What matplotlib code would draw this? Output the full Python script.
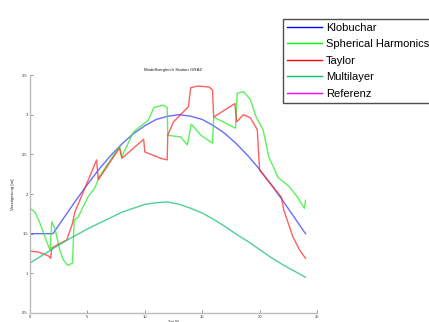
import matplotlib
matplotlib.use("Agg")
import matplotlib.pyplot as plt
from matplotlib.lines import Line2D

# ---- data ----
kl_x = [0, 1, 2, 3, 4, 5, 6, 7, 8, 9, 10, 11, 12, 13, 14, 15, 16, 17, 18, 19, 20, 21, 22, 23, 24]
kl_y = [1.5, 1.5, 1.5, 1.71, 1.92, 2.12, 2.31, 2.48, 2.63, 2.76, 2.86, 2.94, 2.98, 3.0,
        2.98, 2.94, 2.86, 2.76, 2.63, 2.48, 2.31, 2.12, 1.92, 1.71, 1.5]

sh_x = [0, 0.44, 0.87, 1.3, 1.75, 1.9, 2.2, 2.6, 2.9, 3.3, 3.7, 3.85, 4.2, 5.0, 5.7, 6.0,
        7.8, 8.0, 9.0, 10.3, 10.8, 11.6, 11.95, 12.0, 13.1, 13.7, 14.05, 14.9, 15.9, 16.0,
        17.9, 18.05, 18.6, 19.2, 19.7, 20.3, 20.8, 21.6, 22.6, 23.3, 23.9, 24.0]
sh_y = [1.82, 1.77, 1.63, 1.46, 1.29, 1.65, 1.55, 1.29, 1.17, 1.10, 1.13, 1.67, 1.71, 1.95,
        2.09, 2.21, 2.60, 2.47, 2.78, 2.93, 3.09, 3.12, 3.09, 2.74, 2.72, 2.62, 2.88, 2.74,
        2.64, 2.97, 2.83, 3.27, 3.29, 3.19, 2.97, 2.81, 2.47, 2.21, 2.09, 1.96, 1.82, 1.92]

ty_x = [0, 0.7, 1.6, 1.8, 1.9, 2.4, 3.2, 3.7, 3.9, 4.8, 5.8, 5.95, 7.8, 8.0, 9.9, 10.0,
        11.4, 11.95, 12.0, 12.5, 13.8, 14.0, 14.6, 15.6, 15.9, 16.0, 17.85, 18.0, 18.6,
        19.2, 19.8, 20.0, 21.0, 21.9, 22.1, 22.9, 23.5, 24.0]
ty_y = [1.28, 1.27, 1.22, 1.19, 1.32, 1.36, 1.42, 1.63, 1.77, 2.08, 2.43, 2.18, 2.58, 2.45,
        2.69, 2.53, 2.45, 2.43, 2.74, 2.91, 3.10, 3.34, 3.36, 3.35, 3.31, 2.97, 3.14, 2.91,
        3.0, 2.96, 2.81, 2.30, 2.12, 1.96, 1.80, 1.46, 1.29, 1.19]

ml_x = [0, 1, 2, 3, 4, 5, 6, 7, 8, 9, 10, 11, 12, 13, 14, 15, 16, 17, 18, 19, 20, 21, 22, 23, 24]
ml_y = [1.13, 1.22, 1.31, 1.40, 1.48, 1.56, 1.63, 1.70, 1.77, 1.82, 1.87, 1.89, 1.90, 1.87,
        1.82, 1.76, 1.68, 1.59, 1.49, 1.40, 1.30, 1.20, 1.11, 1.03, 0.95]

labels = ["Klobuchar", "Spherical Harmonics", "Taylor", "Multilayer", "Referenz"]
x_ticks = [0, 5, 10, 15, 20, 25]
y_ticks = [0.5, 1, 1.5, 2, 2.5, 3, 3.5]
y_ticklabels = ["0.5", "1", "1.5", "2", "2.5", "3", "3.5"]

plt.rcParams['font.family'] = ['Liberation Sans', 'DejaVu Sans']

fig = plt.figure(figsize=(4.29, 3.22), dpi=100)
ax = fig.add_axes([30 / 429, 9 / 322, 287 / 429, 238 / 322])

ax.plot(kl_x, kl_y, color='#3a3aff', lw=1.0, alpha=0.75)
ax.plot(sh_x, sh_y, color='#33ee33', lw=1.0, alpha=0.8)
ax.plot(ty_x, ty_y, color='#ff2a2a', lw=1.0, alpha=0.75)
ax.plot(ml_x, ml_y, color='#22c47a', lw=1.0, alpha=0.8)
ax.plot([], [], color='#ff00ff', lw=1.0)

ax.set_xlim(0, 25)
ax.set_ylim(0.5, 3.5)
ax.set_xticks(x_ticks)
ax.set_xticklabels([str(t) for t in x_ticks])
ax.set_yticks(y_ticks)
ax.set_yticklabels(y_ticklabels)
ax.tick_params(direction='in', length=2, width=0.6, colors='#888888', labelsize=3,
               labelcolor='#333333', pad=1.5)
for s in ['top', 'right']:
    ax.spines[s].set_visible(False)
for s in ['left', 'bottom']:
    ax.spines[s].set_color('#bbbbbb')
    ax.spines[s].set_linewidth(1.0)

ax.set_title("Modellvergleich Station GRAZ", fontsize=3.2, pad=3, color='#222222')
ax.set_ylabel("Verzögerung [m]", fontsize=3.2, labelpad=5, color='#222222')
ax.set_xlabel("Zeit [h]", fontsize=2.6, labelpad=0.3, color='#222222')

handles = [
    Line2D([], [], color='#0000ff', lw=1.0),
    Line2D([], [], color='#00ff00', lw=1.0),
    Line2D([], [], color='#ff0000', lw=1.0),
    Line2D([], [], color='#00c864', lw=1.0),
    Line2D([], [], color='#ff00ff', lw=1.0),
]
leg = fig.legend(handles, labels, loc='upper left', bbox_to_anchor=(283 / 429, 1 - 19 / 322),
                 bbox_transform=fig.transFigure, borderaxespad=0, fontsize=8,
                 fancybox=False, frameon=True, handlelength=3.2, handletextpad=0.3,
                 labelspacing=0.58, borderpad=0.35)
leg.get_frame().set_edgecolor('#222222')
leg.get_frame().set_linewidth(1.0)

fig.savefig("out.png", dpi=100)
